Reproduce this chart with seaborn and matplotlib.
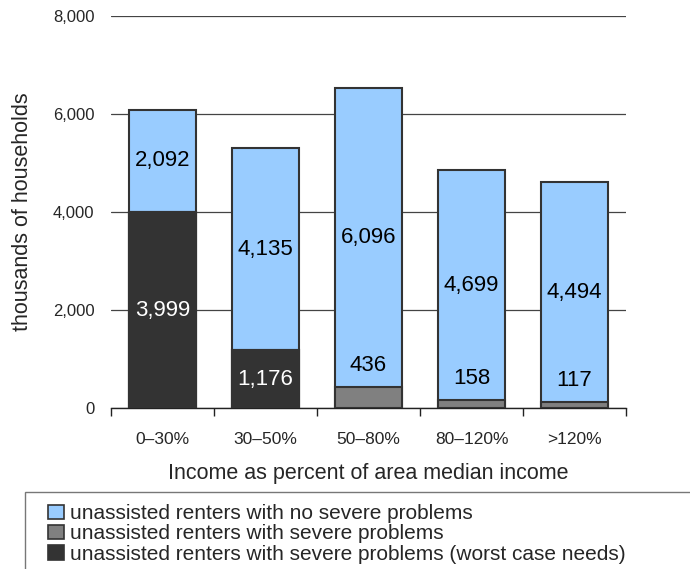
import matplotlib
matplotlib.use("Agg")
import matplotlib.pyplot as plt
import seaborn as sns
import pandas as pd
import numpy as np
from matplotlib.patches import Rectangle, Patch
from matplotlib.ticker import FuncFormatter, FixedLocator

categories = ["0–30%", "30–50%", "50–80%", "80–120%", ">120%"]
worst_case = [3999, 1176, 0, 0, 0]
severe = [0, 0, 436, 158, 117]
no_severe = [2092, 4135, 6096, 4699, 4494]
series_names = ["unassisted renters with no severe problems",
                "unassisted renters with severe problems",
                "unassisted renters with severe problems (worst case needs)"]
colors = ["#99CCFF", "#808080", "#333333"]

sns.set_style("white")
plt.rcParams["font.family"] = ["Liberation Sans", "DejaVu Sans"]

df = pd.DataFrame({"cat": categories, "worst": worst_case, "severe": severe, "none": no_severe})
df["lvl2"] = df["worst"] + df["severe"]
df["total"] = df["lvl2"] + df["none"]

fig = plt.figure(figsize=(6.9, 5.69), dpi=100)
ax = fig.add_axes([111/690, 1-408/569, (626-111)/690, (408-16)/569])

common = dict(width=0.66, edgecolor="#333333", linewidth=1.5, ax=ax, zorder=3)
sns.barplot(data=df, x="cat", y="total", color=colors[0], saturation=1, **common)
sns.barplot(data=df, x="cat", y="lvl2", color=colors[1], saturation=1, **common)
sns.barplot(data=df, x="cat", y="worst", color=colors[2], saturation=1, **common)
for p in ax.patches:
    if p.get_height() == 0:
        p.set_visible(False)

ax.set_ylim(0, 8000)
ax.set_xlim(-0.5, 4.5)
ax.set_yticks([0, 2000, 4000, 6000, 8000])
ax.yaxis.set_major_formatter(FuncFormatter(lambda v, p: f"{int(v):,}"))
ax.grid(axis="y", color="#444444", linewidth=0.9, zorder=0)
for s in ["top", "right", "left"]:
    ax.spines[s].set_visible(False)
ax.spines["bottom"].set_color("#222222")
ax.spines["bottom"].set_linewidth(1.0)
ax.tick_params(axis="y", length=0, labelsize=12, pad=12)
ax.tick_params(axis="x", which="major", length=0, labelsize=12.5, pad=17)
ax.xaxis.set_minor_locator(FixedLocator(np.arange(-0.5, 5, 1)))
ax.tick_params(axis="x", which="minor", length=6, width=1, color="#222222", bottom=True)
ax.set_xlabel("Income as percent of area median income", fontsize=15.5, labelpad=12)
ax.set_ylabel("thousands of households", fontsize=15.5, labelpad=14)

# value labels
for i in range(len(categories)):
    w, s, n = worst_case[i], severe[i], no_severe[i]
    if w > 0:
        ax.text(i, w/2, f"{w:,}", ha="center", va="center", fontsize=16, color="white", zorder=5)
    if s > 0:
        ax.annotate(f"{s:,}", (i, w + s), xytext=(0, 8), textcoords="offset points",
                    ha="center", va="bottom", fontsize=16, color="black", zorder=5)
    ax.text(i, w + s + n/2, f"{n:,}", ha="center", va="center", fontsize=16, color="black", zorder=5)

# legend box
fig.patches.append(Rectangle((25/690, -0.05), 1.0, (1-492/569)+0.05, transform=fig.transFigure,
                             fill=False, edgecolor="#777777", linewidth=1.0))
handles = [Patch(facecolor=c, edgecolor="#333333", linewidth=1.2) for c in colors]
fig.legend(handles, series_names, loc="upper left", bbox_to_anchor=(38/690, 1-494/569),
           frameon=False, fontsize=15, handlelength=0.75, handleheight=0.7,
           handletextpad=0.3, labelspacing=0.05, borderpad=0.0)

fig.savefig("out.png", dpi=100)
